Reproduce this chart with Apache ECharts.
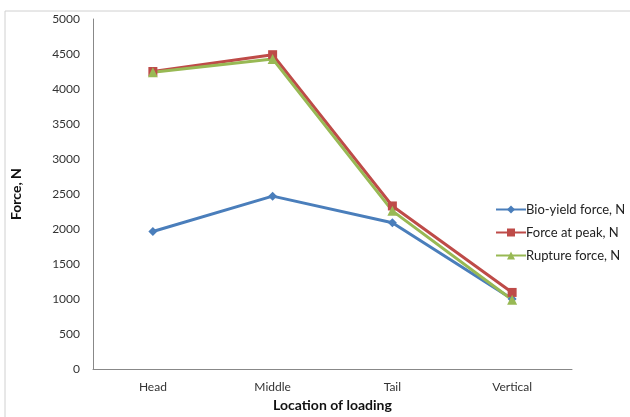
<!DOCTYPE html>
<html>
<head>
<meta charset="utf-8">
<script src="https://cdn.jsdelivr.net/npm/echarts@6/dist/echarts.min.js"></script>
<style>
  html, body { margin: 0; padding: 0; background: #fff; }
  #chart { width: 630px; height: 417px; }
</style>
</head>
<body>
<div id="chart"></div>
<script>
var categories = ['Head', 'Middle', 'Tail', 'Vertical'];
var bioYield = [1965, 2470, 2090, 1000];
var forcePeak = [4250, 4490, 2330, 1095];
var rupture = [4240, 4430, 2260, 990];
var yTicks = [0, 5000, 500];

var font = 'Lato, "Noto Sans", sans-serif';
var chart = echarts.init(document.getElementById('chart'));

function line(name, data, color, symbol, size) {
    return {
        name: name,
        type: 'line',
        data: data,
        symbol: symbol,
        symbolSize: size,
        showSymbol: true,
        lineStyle: {color: color, width: 3},
        itemStyle: {color: color},
        emphasis: {disabled: true}
    };
}

var option = {
    animation: false,
    graphic: [{
        type: 'rect',
        shape: {x: 5, y: 11, width: 640, height: 420},
        style: {fill: 'none', stroke: '#d0d0d0', lineWidth: 1},
        silent: true
    }],
    grid: {left: 93, right: 58, top: 19, bottom: 44},
    legend: {
        orient: 'vertical',
        left: 490,
        top: 198,
        itemWidth: 30,
        itemHeight: 10,
        itemGap: 10,
        textStyle: {fontFamily: font, fontSize: 13, color: '#222', padding: [0, 0, 0, -5]},
        data: ['Bio-yield force, N', 'Force at peak, N', 'Rupture force, N']
    },
    xAxis: {
        type: 'category',
        data: categories,
        boundaryGap: true,
        name: 'Location of loading',
        nameLocation: 'middle',
        nameGap: 28,
        nameTextStyle: {fontFamily: font, fontSize: 14, fontWeight: 'bold', color: '#111'},
        axisLine: {lineStyle: {color: '#888'}},
        axisTick: {show: false},
        axisLabel: {fontFamily: font, fontSize: 12, color: '#333', margin: 12}
    },
    yAxis: {
        type: 'value',
        min: yTicks[0],
        max: yTicks[1],
        interval: yTicks[2],
        name: 'Force, N',
        nameLocation: 'middle',
        nameGap: 70,
        nameTextStyle: {fontFamily: font, fontSize: 14, fontWeight: 'bold', color: '#111'},
        axisLine: {show: true, lineStyle: {color: '#888'}},
        axisTick: {show: false},
        splitLine: {show: false},
        axisLabel: {fontFamily: font, fontSize: 12, color: '#333', margin: 13, formatter: function (v) { return String(v); }}
    },
    series: [
        line('Bio-yield force, N', bioYield, '#4a7ebb', 'diamond', 9),
        line('Force at peak, N', forcePeak, '#be4b48', 'rect', 9),
        line('Rupture force, N', rupture, '#98b954', 'triangle', 10)
    ]
};
chart.setOption(option);
</script>
</body>
</html>
